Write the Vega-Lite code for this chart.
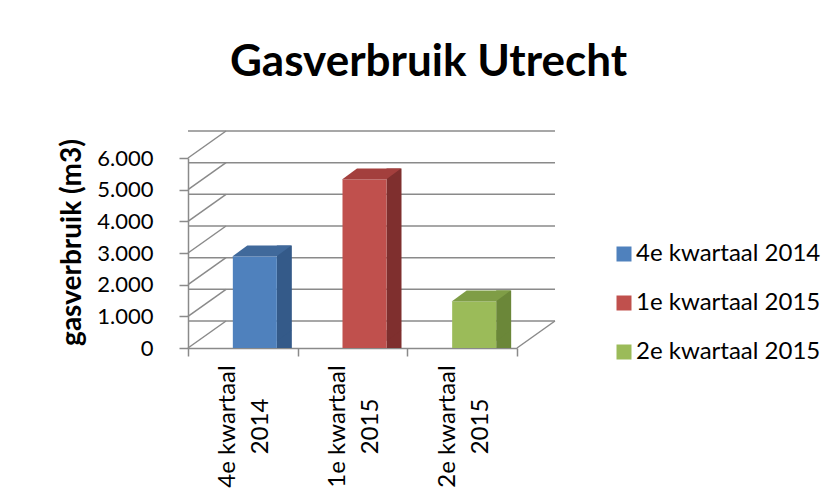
{
  "$schema": "https://vega.github.io/schema/vega-lite/v6.json",
  "width": 329,
  "height": 190,
  "autosize": {"type": "none"},
  "padding": {"left": 188, "top": 158, "right": 323, "bottom": 156},
  "background": "white",
  "config": {
    "view": {"stroke": null},
    "font": "Lato",
    "axisY": {
      "title": "gasverbruik (m3)",
      "titleFont": "Lato",
      "titleFontSize": 28,
      "titleFontWeight": "bold",
      "titleColor": "black",
      "titlePadding": 10,
      "titleY": 84,
      "labelOverlap": false,
      "labelFont": "Lato",
      "labelFontSize": 22,
      "labelColor": "black",
      "labelPadding": 26,
      "tickSize": 9,
      "tickWidth": 1.5,
      "tickColor": "#8a8a8a",
      "domainColor": "#8a8a8a",
      "domainWidth": 1.5,
      "grid": false
    }
  },
  "title": {
    "text": "Gasverbruik Utrecht",
    "font": "Lato",
    "fontSize": 44,
    "fontWeight": "bold",
    "color": "black",
    "anchor": "middle",
    "dx": 76,
    "offset": 45
  },
  "datasets": {
    "bars": [
      {"kwartaal": "4e kwartaal 2014", "verbruik": 2670},
      {"kwartaal": "1e kwartaal 2015", "verbruik": 5100},
      {"kwartaal": "2e kwartaal 2015", "verbruik": 1250}
    ],
    "ticks": [
      {"v": 0}, {"v": 1000}, {"v": 2000}, {"v": 3000}, {"v": 4000}, {"v": 5000}, {"v": 6000}
    ]
  },
  "resolve": {"scale": {"color": "independent"}},
  "layer": [
    {
      "data": {"name": "ticks"},
      "mark": {"type": "rule", "color": "#8a8a8a", "strokeWidth": 1.5, "xOffset": 38, "x2Offset": 38, "yOffset": -27},
      "encoding": {
        "y": {
          "field": "v", "type": "quantitative",
          "scale": {"domain": [0, 6000], "nice": false},
          "axis": {
            "title": "gasverbruik (m3)",
            "values": [0, 1000, 2000, 3000, 4000, 5000, 6000],
            "tickCount": 7,
            "labelOverlap": false,
            "labelExpr": "replace(format(datum.value, ','), ',', '.')"
          }
        }
      }
    },
    {
      "data": {"name": "ticks"},
      "mark": {"type": "rule", "color": "#8a8a8a", "strokeWidth": 1.5, "xOffset": 0, "x2Offset": -16.8, "yOffset": 0, "y2Offset": -27},
      "encoding": {
        "x": {"datum": "4e kwartaal 2014", "type": "nominal", "bandPosition": 0},
        "x2": {"datum": "4e kwartaal 2014"},
        "y": {"field": "v", "type": "quantitative"},
        "y2": {"field": "v"}
      }
    },
    {
      "data": {"name": "ticks"},
      "transform": [{"filter": "datum.v == 0"}],
      "mark": {"type": "rule", "color": "#8a8a8a", "strokeWidth": 1.5, "xOffset": 0, "x2Offset": 92.8, "yOffset": 0, "y2Offset": -27},
      "encoding": {
        "x": {"datum": "2e kwartaal 2015", "type": "nominal", "bandPosition": 1},
        "x2": {"datum": "2e kwartaal 2015"},
        "y": {"field": "v", "type": "quantitative"},
        "y2": {"field": "v"}
      }
    },
    {
      "data": {"name": "bars"},
      "mark": {"type": "bar", "width": 15, "xOffset": 41.5, "yOffset": -18, "y2Offset": -18},
      "encoding": {
        "x": {"field": "kwartaal", "type": "nominal", "sort": null},
        "y": {"field": "verbruik", "type": "quantitative", "stack": null},
        "color": {"field": "kwartaal", "type": "nominal", "sort": null, "legend": null,
          "scale": {"domain": ["4e kwartaal 2014", "1e kwartaal 2015", "2e kwartaal 2015"], "range": ["#345A89", "#7F2F2E", "#6B8739"]}}
      }
    },
    {
      "data": {"name": "bars"},
      "mark": {"type": "point", "filled": true, "opacity": 1, "strokeWidth": 0, "size": 225,
        "shape": "M-1,-0.733L-1,0.733L1,-0.733Z", "xOffset": 41.5, "yOffset": -12.5},
      "encoding": {
        "x": {"field": "kwartaal", "type": "nominal", "sort": null},
        "y": {"datum": 0, "type": "quantitative"},
        "color": {"field": "kwartaal", "type": "nominal", "sort": null, "legend": null,
          "scale": {"domain": ["4e kwartaal 2014", "1e kwartaal 2015", "2e kwartaal 2015"], "range": ["#345A89", "#7F2F2E", "#6B8739"]}}
      }
    },
    {
      "data": {"name": "bars"},
      "mark": {"type": "bar", "width": 44, "xOffset": 12, "yOffset": -7, "y2Offset": -7},
      "encoding": {
        "x": {
          "field": "kwartaal", "type": "nominal", "sort": null,
          "scale": {"domain": ["4e kwartaal 2014", "1e kwartaal 2015", "2e kwartaal 2015"], "paddingInner": 0, "paddingOuter": 0},
          "axis": {
            "title": null,
            "labelAngle": -90,
            "labelAlign": "center",
            "labelBaseline": "middle",
            "labelPadding": 70,
            "labelOffset": -15,
            "labelLineHeight": 33,
            "labelFont": "Lato",
            "labelFontSize": 24,
            "labelColor": "black",
            "labelOverlap": false,
            "labelBound": false,
            "labelExpr": "[slice(datum.label, 0, 11), slice(datum.label, 12)]",
            "tickBand": "extent",
            "tickSize": 8,
            "tickWidth": 1.5,
            "tickColor": "#8a8a8a",
            "domainColor": "#8a8a8a",
            "domainWidth": 1.5
          }
        },
        "y": {
          "field": "verbruik", "type": "quantitative", "stack": null,
          "axis": {
            "title": "gasverbruik (m3)",
            "values": [0, 1000, 2000, 3000, 4000, 5000, 6000],
            "tickCount": 7,
            "labelOverlap": false,
            "labelExpr": "replace(format(datum.value, ','), ',', '.')"
          }
        },
        "color": {
          "field": "kwartaal", "type": "nominal", "sort": null,
          "scale": {"domain": ["4e kwartaal 2014", "1e kwartaal 2015", "2e kwartaal 2015"], "range": ["#4F81BD", "#C0504D", "#9BBB59"]},
          "legend": {
            "title": null,
            "orient": "none",
            "legendX": 424,
            "legendY": 84,
            "symbolType": "square",
            "symbolSize": 225,
            "symbolStrokeWidth": 0,
            "labelFont": "Lato",
            "labelFontSize": 24,
            "labelColor": "black",
            "labelOffset": 0,
            "labelLimit": 400,
            "rowPadding": 25,
            "padding": 0
          }
        }
      }
    },
    {
      "data": {"name": "bars"},
      "mark": {"type": "point", "filled": true, "opacity": 1, "strokeWidth": 0, "size": 3481,
        "shape": "M-1,0.186L0.492,0.186L1,-0.186L-0.492,-0.186Z", "xOffset": 19, "yOffset": -12.5},
      "encoding": {
        "x": {"field": "kwartaal", "type": "nominal", "sort": null},
        "y": {"field": "verbruik", "type": "quantitative"},
        "color": {"field": "kwartaal", "type": "nominal", "sort": null, "legend": null,
          "scale": {"domain": ["4e kwartaal 2014", "1e kwartaal 2015", "2e kwartaal 2015"], "range": ["#40699B", "#A33F3D", "#7F9D46"]}}
      }
    }
  ]
}
